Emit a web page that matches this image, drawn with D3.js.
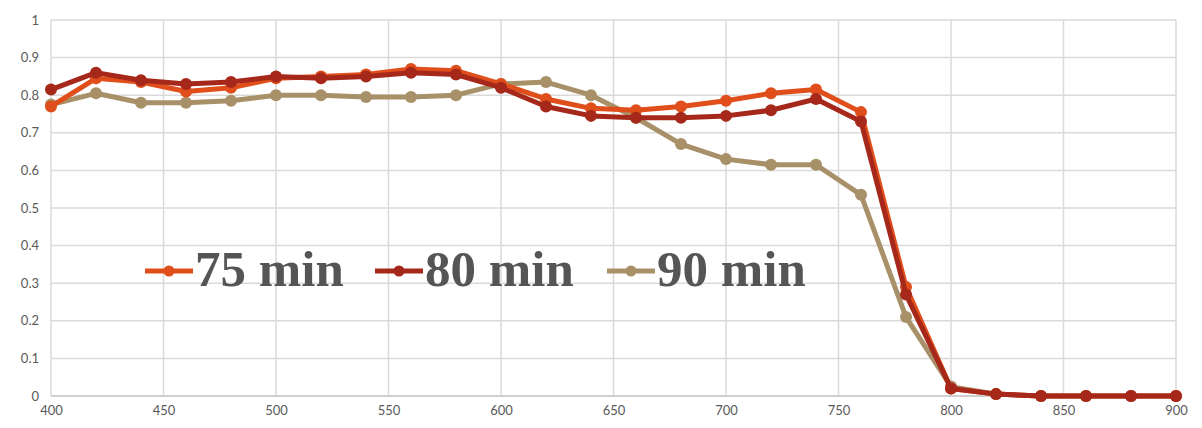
<!DOCTYPE html>
<html lang="en">
<head>
  <meta charset="UTF-8">
  <title>Chart</title>
  <script src="https://d3js.org/d3.v7.min.js"></script>
  <style>
    body { margin: 0; background: #fff; }
  </style>
</head>
<body>
  <svg width="1202" height="428" id="chart"></svg>
  <script>
    const wavelengths = [400, 420, 440, 460, 480, 500, 520, 540, 560, 580, 600, 620, 640, 660, 680, 700, 720, 740, 760, 780, 800, 820, 840, 860, 880, 900];
    const min75 = [0.77, 0.845, 0.835, 0.81, 0.82, 0.845, 0.85, 0.855, 0.87, 0.865, 0.83, 0.79, 0.765, 0.76, 0.77, 0.785, 0.805, 0.815, 0.755, 0.29, 0.02, 0.005, 0, 0, 0, 0];
    const min80 = [0.815, 0.86, 0.84, 0.83, 0.835, 0.85, 0.845, 0.85, 0.86, 0.855, 0.82, 0.77, 0.745, 0.74, 0.74, 0.745, 0.76, 0.79, 0.73, 0.27, 0.02, 0.005, 0, 0, 0, 0];
    const min90 = [0.775, 0.805, 0.78, 0.78, 0.785, 0.8, 0.8, 0.795, 0.795, 0.8, 0.83, 0.835, 0.8, 0.74, 0.67, 0.63, 0.615, 0.615, 0.535, 0.21, 0.025, 0.005, 0, 0, 0, 0];
    const xTicks = [400, 450, 500, 550, 600, 650, 700, 750, 800, 850, 900];
    const yTicks = [0, 0.1, 0.2, 0.3, 0.4, 0.5, 0.6, 0.7, 0.8, 0.9, 1];

    const series = [
      { name: '75 min', values: min75, color: '#e04e1b' },
      { name: '80 min', values: min80, color: '#a5281b' },
      { name: '90 min', values: min90, color: '#a89068' }
    ];

    const svg = d3.select('#chart');
    const margin = { top: 20, right: 26, bottom: 32, left: 51 };
    const width = +svg.attr('width');
    const height = +svg.attr('height');
    const innerWidth = width - margin.left - margin.right;
    const innerHeight = height - margin.top - margin.bottom;

    const x = d3.scaleLinear().domain([400, 900]).range([0, innerWidth]);
    const y = d3.scaleLinear().domain([0, 1]).range([innerHeight, 0]);

    const g = svg.append('g').attr('transform', `translate(${margin.left},${margin.top})`);

    // grid
    g.append('g').selectAll('line').data(yTicks).join('line')
      .attr('x1', 0).attr('x2', innerWidth)
      .attr('y1', d => y(d)).attr('y2', d => y(d))
      .attr('stroke', '#dadada').attr('stroke-width', 1.5);
    g.append('g').selectAll('line').data(xTicks).join('line')
      .attr('x1', d => x(d)).attr('x2', d => x(d))
      .attr('y1', 0).attr('y2', innerHeight)
      .attr('stroke', '#dadada').attr('stroke-width', 1.5);
    g.append('line')
      .attr('x1', 0).attr('x2', innerWidth)
      .attr('y1', innerHeight).attr('y2', innerHeight)
      .attr('stroke', '#c8c8c8').attr('stroke-width', 1.5);

    // axes
    const xAxis = d3.axisBottom(x).tickValues(xTicks).tickSize(0).tickPadding(10);
    const yAxis = d3.axisLeft(y).tickValues(yTicks).tickSize(0).tickPadding(12).tickFormat(d3.format(''));
    g.append('g').attr('transform', `translate(0,${innerHeight})`).call(xAxis)
      .call(a => a.select('.domain').remove());
    g.append('g').call(yAxis).call(a => a.select('.domain').remove());
    g.selectAll('.tick text')
      .attr('fill', '#595959')
      .attr('font-size', 13)
      .attr('font-family', 'Lato, "Open Sans", sans-serif');

    // lines
    const line = d3.line()
      .x((d, i) => x(wavelengths[i]))
      .y(d => y(d));

    // 90 below, then 75, then 80 on top
    const order = [series[2], series[0], series[1]];
    order.forEach(s => {
      g.append('path')
        .datum(s.values)
        .attr('d', line)
        .attr('fill', 'none')
        .attr('stroke', s.color)
        .attr('stroke-width', 5)
        .attr('stroke-linejoin', 'round');
      g.append('g').selectAll('circle').data(s.values).join('circle')
        .attr('cx', (d, i) => x(wavelengths[i]))
        .attr('cy', d => y(d))
        .attr('r', 6)
        .attr('fill', s.color);
    });

    // legend
    const legendX = [145, 375, 607];
    const legend = svg.append('g');
    series.forEach((s, i) => {
      const lg = legend.append('g').attr('transform', `translate(${legendX[i]},271)`);
      lg.append('line').attr('x1', 0).attr('x2', 48).attr('y1', 0).attr('y2', 0)
        .attr('stroke', s.color).attr('stroke-width', 5);
      lg.append('circle').attr('cx', 24).attr('cy', 0).attr('r', 5.5).attr('fill', s.color);
      lg.append('text').attr('x', 50).attr('y', 15)
        .text(s.name)
        .attr('font-family', '"Liberation Serif", "Times New Roman", serif')
        .attr('font-weight', 'bold')
        .attr('font-size', 51)
        .attr('fill', '#555555');
    });
  </script>
</body>
</html>
